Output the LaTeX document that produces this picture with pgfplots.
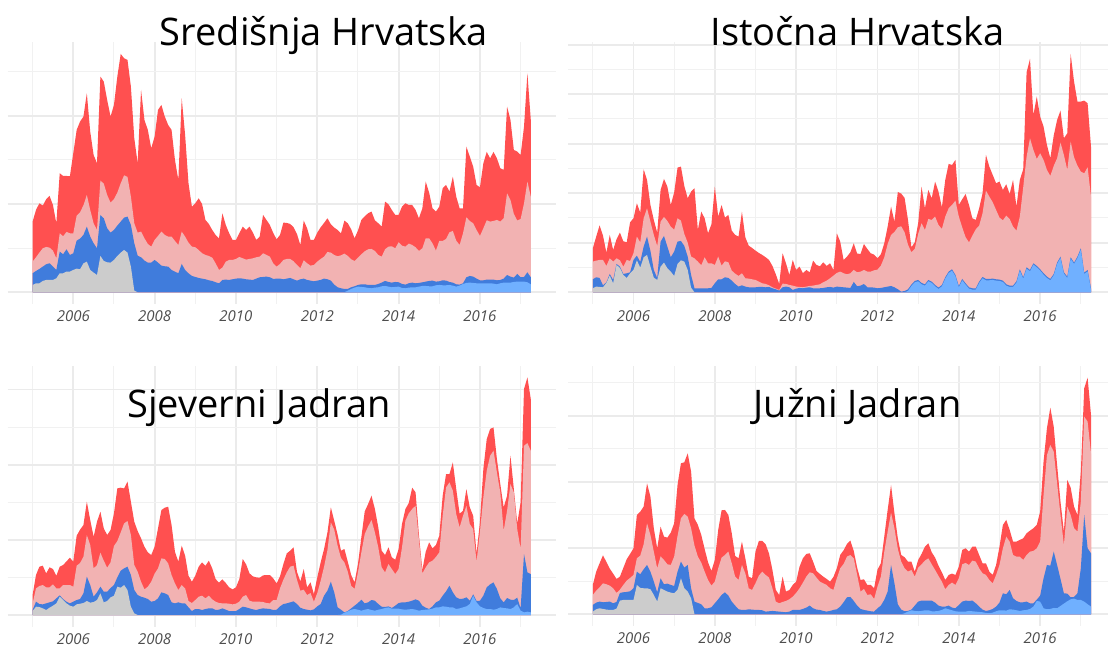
\documentclass[border=0pt]{standalone}
\usepackage{fontspec}
\setmainfont{Open Sans}
\usepackage{pgfplots}
\usepackage{pgfplotstable}
\pgfplotsset{compat=1.18}
\definecolor{cRed}{RGB}{255,80,80}
\definecolor{cPink}{RGB}{242,178,178}
\definecolor{cDark}{RGB}{64,124,220}
\definecolor{cLight}{RGB}{112,176,255}
\definecolor{cGrey}{RGB}{204,204,204}
\definecolor{gridc}{RGB}{235,235,235}
\definecolor{gridm}{RGB}{241,241,241}
\definecolor{tickc}{RGB}{77,77,77}

% m = months since Jan 2005; a = grey (to 2007) / light blue (from 2012) top,
% b = dark blue top, c = pink top, d = red top (stacked, cumulative)
\pgfplotstableread{
m a b c d
0 22 57 92 212
1 27 64 105 247
2 27 70 119 267
3 34 77 132 260
4 37 84 136 279
5 37 87 134 289
6 37 77 125 262
7 42 67 102 207
8 57 122 177 357
9 57 114 168 349
10 62 129 181 349
11 62 112 177 348
12 67 117 177 417
13 71 155 230 487
14 69 161 240 512
15 87 172 261 527
16 92 197 292 597
17 67 167 247 482
18 59 147 207 412
19 52 132 187 387
20 109 232 335 647
21 94 222 326 632
22 90 192 292 577
23 89 179 269 527
24 97 187 279 562
25 109 200 299 647
26 119 212 327 715
27 127 224 351 702
28 119 227 346 697
29 77 202 287 617
30 5 147 207 462
31 0 110 179 387
32 0 105 182 607
33 0 95 162 517
34 0 89 145 487
35 0 89 137 432
36 0 97 157 467
37 0 89 169 547
38 0 80 182 562
39 0 78 172 527
40 0 77 167 502
41 0 67 167 487
42 0 62 154 397
43 0 57 142 337
44 0 85 182 582
45 0 67 167 472
46 0 57 149 327
47 0 49 137 257
48 0 46 135 267
49 0 43 127 282
50 0 41 117 265
51 0 39 112 217
52 0 36 109 205
53 0 34 104 187
54 0 30 87 172
55 0 27 67 162
56 0 37 74 237
57 0 38 92 202
58 0 37 97 177
59 0 39 97 157
60 0 41 100 157
61 0 42 106 177
62 0 41 102 197
63 0 39 98 187
64 0 38 100 197
65 0 37 102 179
66 0 41 105 157
67 0 45 107 167
68 0 46 117 232
69 0 47 112 217
70 0 45 107 202
71 0 40 87 178
72 0 41 77 159
73 0 41 85 172
74 0 39 97 209
75 0 41 100 208
76 0 43 100 205
77 0 39 93 195
78 0 35 82 175
79 0 39 72 142
80 0 41 96 215
81 0 37 87 192
82 0 35 80 157
83 0 33 82 157
84 0 35 92 179
85 0 37 100 195
86 0 41 107 208
87 0 39 121 222
88 0 35 119 204
89 0 23 112 194
90 0 15 108 187
91 0 12 111 177
92 0 10 116 215
93 5 10 109 207
94 10 15 99 189
95 14 18 94 162
96 17 22 104 185
97 16 24 114 217
98 15 24 123 228
99 13 22 129 237
100 12 22 130 242
101 14 22 124 216
102 15 25 112 207
103 18 29 107 197
104 19 34 129 272
105 17 31 137 264
106 15 29 138 247
107 16 31 132 232
108 17 30 150 232
109 13 25 140 257
110 12 23 137 267
111 14 27 146 262
112 15 29 142 262
113 15 27 135 247
114 17 28 124 222
115 19 30 132 252
116 19 32 162 332
117 18 34 162 299
118 18 35 147 252
119 21 32 125 242
120 22 33 154 257
121 21 36 154 312
122 21 35 160 322
123 22 31 180 302
124 20 29 184 347
125 17 24 155 287
126 20 23 142 252
127 25 27 177 252
128 28 45 225 437
129 29 49 214 407
130 28 47 207 377
131 27 41 187 322
132 27 36 169 315
133 27 36 192 387
134 27 38 216 421
135 27 38 212 402
136 26 38 214 421
137 24 36 217 402
138 27 37 212 372
139 29 41 222 367
140 29 52 297 557
141 29 47 277 517
142 31 44 235 427
143 32 55 215 422
144 32 45 220 412
145 32 46 267 497
146 30 60 332 657
147 24 45 287 517
}\tA

\pgfplotstableread{
m a b c d
0 12 39 92 132
1 17 45 95 167
2 16 43 97 201
3 15 21 97 170
4 28 30 79 119
5 50 55 102 172
6 27 37 92 127
7 82 85 102 159
8 73 77 96 179
9 52 55 77 153
10 43 57 97 150
11 57 60 94 210
12 67 97 117 222
13 96 110 167 267
14 74 91 150 239
15 105 137 222 369
16 112 167 252 337
17 77 124 212 262
18 44 67 172 217
19 37 43 139 179
20 77 152 212 307
21 89 169 226 340
22 72 137 214 317
23 62 105 197 262
24 49 122 188 299
25 85 152 222 374
26 96 154 215 377
27 92 139 175 319
28 67 107 149 282
29 14 52 107 302
30 0 12 102 312
31 0 12 92 187
32 0 12 81 242
33 0 12 105 222
34 0 12 87 177
35 0 13 87 204
36 0 27 82 317
37 0 39 107 227
38 0 39 80 262
39 0 45 93 224
40 0 43 90 232
41 0 35 65 185
42 0 25 56 172
43 0 17 49 167
44 0 21 57 242
45 0 17 42 165
46 0 15 41 140
47 0 15 39 133
48 0 15 37 125
49 0 16 32 118
50 0 16 27 112
51 0 15 25 105
52 0 16 21 97
53 0 12 15 79
54 0 9 11 54
55 0 5 7 25
56 0 15 26 117
57 0 17 25 87
58 0 15 22 52
59 0 7 20 97
60 0 11 17 67
61 0 13 16 77
62 0 12 15 57
63 0 14 17 67
64 0 15 19 60
65 0 12 20 95
66 0 12 22 82
67 0 12 24 78
68 0 13 30 90
69 0 15 35 79
70 0 16 42 87
71 0 14 50 67
72 0 17 58 177
73 0 16 62 152
74 0 15 57 97
75 0 14 54 107
76 0 13 57 120
77 0 31 67 147
78 0 18 60 116
79 0 20 62 115
80 0 25 67 145
81 0 15 62 130
82 0 15 62 117
83 0 14 66 113
84 0 12 68 102
85 0 13 80 114
86 0 15 105 147
87 0 17 145 197
88 0 19 172 257
89 0 15 181 212
90 0 9 195 301
91 0 2 198 296
92 0 4 180 283
93 4 9 143 217
94 19 23 120 135
95 30 34 130 150
96 33 37 175 207
97 24 28 207 317
98 20 24 187 252
99 33 37 220 307
100 28 32 217 282
101 18 22 227 332
102 10 14 202 302
103 18 22 190 255
104 41 45 227 337
105 58 62 252 385
106 65 69 262 382
107 48 52 275 397
108 15 19 227 262
109 36 40 195 279
110 23 27 165 295
111 11 15 150 262
112 8 12 170 222
113 8 12 189 217
114 28 32 200 252
115 42 46 237 297
116 36 40 305 412
117 36 40 287 377
118 37 41 270 352
119 35 39 247 327
120 34 38 224 332
121 31 35 216 307
122 20 24 230 324
123 16 20 220 295
124 16 20 197 337
125 29 33 185 257
126 65 69 227 337
127 41 45 315 369
128 71 75 407 660
129 63 67 462 700
130 83 87 427 532
131 75 79 400 587
132 65 69 417 527
133 53 57 397 497
134 43 47 367 442
135 36 40 349 402
136 51 55 379 470
137 85 89 402 517
138 103 107 449 545
139 56 60 412 462
140 43 47 367 477
141 101 105 452 715
142 85 89 405 632
143 103 107 380 572
144 128 132 362 572
145 55 59 357 575
146 63 67 375 567
147 8 12 287 437
}\tB

\pgfplotstableread{
m a b c d
0 12 15 35 60
1 25 40 80 120
2 24 33 87 145
3 20 32 90 148
4 15 35 83 125
5 22 38 83 143
6 28 41 92 138
7 35 50 80 118
8 55 59 80 145
9 45 48 90 150
10 35 40 90 161
11 28 35 90 172
12 25 40 85 160
13 32 45 148 238
14 34 48 156 256
15 36 65 175 270
16 42 115 240 340
17 37 90 210 285
18 39 55 140 235
19 45 68 150 280
20 65 85 187 310
21 38 70 163 260
22 42 70 142 240
23 53 81 158 255
24 58 90 207 305
25 85 113 222 380
26 82 133 248 382
27 90 140 275 380
28 75 145 282 400
29 25 120 240 340
30 5 75 150 280
31 0 60 130 252
32 0 55 100 230
33 0 52 77 205
34 0 48 85 188
35 0 40 100 180
36 0 42 124 205
37 0 50 140 260
38 0 68 170 315
39 0 65 168 322
40 0 60 155 325
41 0 38 120 270
42 0 35 95 190
43 0 38 75 160
44 0 35 90 208
45 0 35 80 178
46 0 23 42 118
47 0 12 36 100
48 0 18 45 118
49 0 18 55 145
50 0 15 58 158
51 0 18 50 148
52 0 20 58 163
53 0 20 47 140
54 0 15 40 108
55 0 16 36 97
56 0 20 35 107
57 0 16 35 96
58 0 12 34 83
59 0 12 32 77
60 0 12 34 83
61 0 18 40 108
62 0 25 55 168
63 0 23 60 152
64 0 20 43 125
65 0 17 40 116
66 0 15 40 113
67 0 18 40 112
68 0 20 39 119
69 0 19 36 120
70 0 18 35 120
71 0 15 45 110
72 0 16 45 95
73 0 26 80 116
74 0 33 106 153
75 0 35 128 185
76 0 38 145 193
77 0 41 148 203
78 0 33 106 130
79 0 22 73 101
80 0 18 76 138
81 0 16 60 83
82 0 14 66 98
83 0 17 40 63
84 0 26 66 113
85 0 33 103 158
86 0 58 145 198
87 0 73 195 248
88 0 100 278 323
89 0 68 256 283
90 0 23 208 241
91 1 16 171 193
92 7 8 158 198
93 11 12 130 160
94 16 20 88 120
95 18 28 78 98
96 16 36 128 153
97 13 46 188 233
98 16 35 243 311
99 18 38 266 333
100 15 45 285 358
101 13 43 248 318
102 16 33 203 263
103 18 25 143 193
104 21 24 128 180
105 23 26 153 203
106 19 21 138 173
107 19 28 123 166
108 19 36 138 198
109 17 38 203 273
110 16 38 283 318
111 17 40 305 336
112 18 43 318 382
113 16 47 328 368
114 13 43 225 240
115 15 28 125 135
116 16 22 143 190
117 17 18 158 218
118 19 26 163 200
119 23 38 174 210
120 23 43 188 238
121 26 58 298 358
122 25 71 383 423
123 23 88 398 423
124 23 68 373 458
125 18 53 303 378
126 20 48 263 304
127 23 49 298 313
128 26 53 328 378
129 33 43 273 323
130 58 62 258 298
131 38 42 160 185
132 26 43 250 280
133 21 58 353 438
134 18 83 433 528
135 18 92 478 558
136 16 98 493 563
137 18 78 428 468
138 23 50 368 393
139 21 38 253 323
140 20 51 313 358
141 18 46 393 478
142 23 45 368 378
143 33 52 258 275
144 13 20 198 338
145 8 183 508 678
146 10 128 516 713
147 8 123 493 648
}\tC

\pgfplotstableread{
m a b c d
0 8 28 58 88
1 15 35 71 128
2 18 38 81 153
3 16 36 93 177
4 14 37 90 157
5 13 38 86 137
6 13 33 78 122
7 17 37 64 106
8 41 64 74 113
9 43 66 88 139
10 43 67 101 165
11 43 69 109 181
12 43 78 118 198
13 88 128 168 298
14 79 120 176 308
15 78 135 210 323
16 78 148 273 393
17 75 128 238 353
18 58 98 188 258
19 38 66 138 198
20 78 108 174 263
21 73 90 163 233
22 68 92 150 230
23 65 88 148 245
24 63 85 173 273
25 73 128 235 388
26 108 158 288 453
27 78 140 301 456
28 68 148 293 483
29 48 78 258 428
30 0 38 206 288
31 0 34 173 268
32 0 30 155 238
33 0 18 128 196
34 0 18 103 156
35 0 21 86 130
36 0 33 98 163
37 0 45 138 253
38 0 58 170 312
39 0 66 178 313
40 0 56 188 298
41 0 38 153 243
42 0 26 113 175
43 0 15 103 168
44 0 13 148 218
45 0 13 123 168
46 0 15 78 113
47 0 14 73 108
48 0 13 93 188
49 0 13 116 220
50 0 12 128 220
51 0 8 118 210
52 0 9 110 182
53 0 10 78 133
54 0 9 38 73
55 0 8 33 58
56 0 7 37 113
57 0 6 40 68
58 0 8 45 73
59 0 13 53 88
60 0 13 64 98
61 0 13 78 143
62 0 16 95 168
63 0 20 113 181
64 0 26 126 183
65 0 18 123 158
66 0 14 110 130
67 0 13 98 121
68 0 10 93 113
69 0 8 88 106
70 0 10 78 98
71 0 13 73 112
72 0 15 108 138
73 0 23 138 178
74 0 36 151 192
75 0 51 173 211
76 0 52 178 221
77 0 40 168 190
78 0 26 118 140
79 0 16 68 103
80 0 13 76 105
81 0 11 58 88
82 0 9 60 88
83 0 8 46 78
84 0 18 83 134
85 0 26 113 153
86 0 43 188 233
87 0 68 248 313
88 0 148 305 388
89 0 93 258 303
90 0 30 196 228
91 0 14 158 178
92 3 9 138 171
93 8 10 128 158
94 12 14 133 158
95 10 26 113 128
96 9 38 140 163
97 10 41 150 181
98 12 41 161 203
99 12 41 168 213
100 9 41 150 186
101 9 35 133 170
102 10 26 115 146
103 13 23 98 126
104 18 23 75 103
105 15 26 88 118
106 12 20 95 122
107 9 18 88 118
108 8 28 108 143
109 8 38 150 193
110 8 41 154 198
111 10 40 148 188
112 9 41 161 203
113 8 33 158 203
114 7 23 138 178
115 6 14 123 153
116 4 10 118 153
117 3 12 103 128
118 5 16 93 118
119 9 23 118 148
120 12 35 148 203
121 12 63 198 268
122 11 60 233 283
123 15 73 218 253
124 14 48 178 218
125 12 40 173 218
126 10 36 173 223
127 12 36 163 228
128 13 38 178 243
129 16 33 188 251
130 23 33 190 258
131 40 44 198 268
132 38 56 218 308
133 18 108 358 458
134 15 148 478 558
135 16 146 508 620
136 19 188 488 563
137 18 148 393 448
138 25 106 298 338
139 32 63 208 248
140 39 62 323 403
141 45 51 298 380
142 47 52 258 323
143 43 63 248 298
144 43 138 338 428
145 38 298 593 678
146 30 198 578 710
147 23 183 483 598
}\tD

\pgfplotsset{
  panel/.style={
    scale only axis, width=548pt,
    xmin=-7.35, xmax=154.35,
    axis line style={draw=none},
    major tick length=0pt, minor tick length=0pt,
    xtick={12,36,60,84,108,132},
    xticklabels={2006,2008,2010,2012,2014,2016},
    minor xtick={0,24,48,72,96,120,144},
    yticklabels={},
    grid=both,
    major grid style={line width=1.9pt, color=gridc},
    minor grid style={line width=1pt, color=gridm},
    xticklabel style={font=\fontsize{15}{15}\selectfont\itshape, text=tickc, anchor=base, inner sep=0pt, yshift=-17.5pt},
  }
}
\newcommand{\areas}[1]{%
  \addplot[fill=cRed, draw=none] table[x=m, y=d] {#1} \closedcycle;
  \addplot[fill=cPink, draw=none] table[x=m, y=c] {#1} \closedcycle;
  \addplot[fill=cDark, draw=none] table[x=m, y=b] {#1} \closedcycle;
  \addplot[fill=cGrey, draw=none, restrict x to domain=0:31] table[x=m, y=a] {#1} \closedcycle;
  \addplot[fill=cLight, draw=none, restrict x to domain=90:147] table[x=m, y=a] {#1} \closedcycle;
}

\begin{document}
\begin{tikzpicture}
\path[use as bounding box] (0pt,0pt) rectangle (1108pt,-648pt);

\begin{axis}[panel, at={(7.7pt,-304.2pt)}, anchor=south west, height=262.2pt,
  ymin=-35.75, ymax=750.75, ytick={0,264.8,529.6}, minor ytick={132.4,397.2,662}]
\areas{\tA}
\end{axis}

\begin{axis}[panel, at={(567.9pt,-304.2pt)}, anchor=south west, height=262.2pt,
  ymin=-35.75, ymax=750.75, ytick={0,148.6,297.2,445.8,594.4,743}, minor ytick={74.3,222.9,371.5,520.1,668.7}]
\areas{\tB}
\end{axis}

\begin{axis}[panel, at={(7.7pt,-626.9pt)}, anchor=south west, height=261.4pt,
  ymin=-35.65, ymax=748.65, ytick={0,225.5,451,676.5}, minor ytick={112.75,338.25,563.75}]
\areas{\tC}
\end{axis}

\begin{axis}[panel, at={(567.9pt,-626.1pt)}, anchor=south west, height=260.3pt,
  ymin=-35.5, ymax=745.5, ytick={0,198.6,397.2,595.8}, minor ytick={99.3,297.9,496.5,695.1}]
\areas{\tD}
\end{axis}

\node[anchor=base, font=\fontsize{38}{40}\selectfont] at (324pt,-45pt) {Središnja Hrvatska};
\node[anchor=base, font=\fontsize{38}{40}\selectfont] at (857.5pt,-45pt) {Istočna Hrvatska};
\node[anchor=base, font=\fontsize{38}{40}\selectfont] at (259pt,-417pt) {Sjeverni Jadran};
\node[anchor=base, font=\fontsize{38}{40}\selectfont] at (857.5pt,-417pt) {Južni Jadran};
\end{tikzpicture}
\end{document}
